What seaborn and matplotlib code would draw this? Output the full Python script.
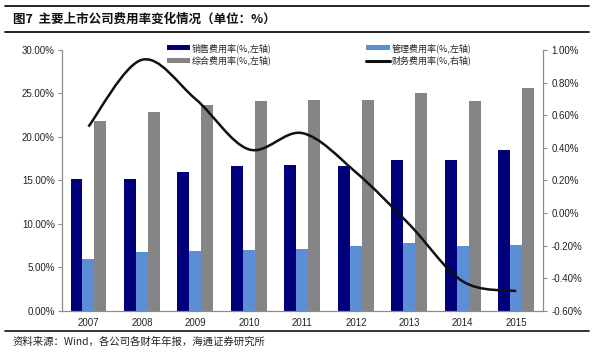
import numpy as np
import pandas as pd
import matplotlib
matplotlib.use("Agg")
import matplotlib.pyplot as plt
import seaborn as sns
from matplotlib.path import Path
from matplotlib.patches import PathPatch, Patch
from matplotlib.lines import Line2D
from matplotlib.ticker import FuncFormatter, MultipleLocator

# 数据（单位：%）
years = ["2007", "2008", "2009", "2010", "2011", "2012", "2013", "2014", "2015"]
sales_rate = [15.2, 15.2, 16.0, 16.7, 16.8, 16.6, 17.3, 17.3, 18.5]
admin_rate = [6.0, 6.8, 6.9, 7.0, 7.05, 7.4, 7.8, 7.4, 7.6]
total_rate = [21.8, 22.9, 23.7, 24.1, 24.3, 24.3, 25.0, 24.1, 25.6]
finance_rate = [0.53, 0.94, 0.70, 0.39, 0.49, 0.25, -0.07, -0.42, -0.48]

series_names = ["销售费用率(%,左轴)", "管理费用率(%,左轴)", "综合费用率(%,左轴)"]
line_name = "财务费用率(%,右轴)"
colors = ["#00007a", "#5b8ed6", "#858585"]

title = "图7  主要上市公司费用率变化情况（单位：%）"
source = "资料来源：Wind，各公司各财年年报，海通证券研究所"

sns.set_style("white")
plt.rcParams["font.family"] = ["Liberation Sans", "Noto Sans CJK SC"]
cjk = ["Noto Sans CJK SC", "DejaVu Sans"]

df = pd.DataFrame({
    "year": years * 3,
    "series": np.repeat(series_names, len(years)),
    "value": sales_rate + admin_rate + total_rate,
})

fig = plt.figure(figsize=(5.95, 3.59), dpi=100)
ax = fig.add_axes([0.1037, 0.1345, 0.8089, 0.7262])

sns.barplot(data=df, x="year", y="value", hue="series", hue_order=series_names,
            palette=colors, width=0.67, gap=0, saturation=1, legend=False,
            edgecolor="none", ax=ax)

ax.set_xlim(-0.5, len(years) - 0.5)
ax.set_ylim(0, 30)
ax.yaxis.set_major_locator(MultipleLocator(5))
ax.yaxis.set_major_formatter(FuncFormatter(lambda v, p: f"{v:.2f}%"))
ax.set_xlabel("")
ax.set_ylabel("")

# 右轴：财务费用率，平滑曲线
ax2 = ax.twinx()
ax2.set_ylim(-0.6, 1.0)
ax2.yaxis.set_major_locator(MultipleLocator(0.2))
ax2.yaxis.set_major_formatter(FuncFormatter(lambda v, p: f"{v:.2f}%"))

xs = np.arange(len(years), dtype=float)
ys = np.array(finance_rate, dtype=float)
verts = [(xs[0], ys[0])]
codes = [Path.MOVETO]
n = len(xs)
for i in range(n - 1):
    p0 = np.array([xs[max(i - 1, 0)], ys[max(i - 1, 0)]])
    p1 = np.array([xs[i], ys[i]])
    p2 = np.array([xs[i + 1], ys[i + 1]])
    p3 = np.array([xs[min(i + 2, n - 1)], ys[min(i + 2, n - 1)]])
    c1 = p1 + (p2 - p0) / 6
    c2 = p2 - (p3 - p1) / 6
    verts += [tuple(c1), tuple(c2), tuple(p2)]
    codes += [Path.CURVE4] * 3
ax2.add_patch(PathPatch(Path(verts, codes), facecolor="none",
                        edgecolor="#111111", lw=1.8, capstyle="butt"))

# 坐标轴样式
for a in (ax, ax2):
    for s in a.spines.values():
        s.set_visible(False)
    a.tick_params(labelsize=7, colors="#222222", length=3, width=0.8)
    a.grid(False)
ax.spines["left"].set_visible(True)
ax.spines["bottom"].set_visible(True)
ax2.spines["right"].set_visible(True)
for s in (ax.spines["left"], ax.spines["bottom"], ax2.spines["right"]):
    s.set_color("#8c8c8c")
    s.set_linewidth(0.9)
ax.tick_params(axis="y", direction="out", color="#8c8c8c", pad=2)
ax2.tick_params(axis="y", direction="out", color="#8c8c8c", pad=3)
ax.tick_params(axis="x", length=0, pad=5)
ax.set_xticks(np.arange(len(years) + 1) - 0.5, minor=True)
ax.tick_params(axis="x", which="minor", length=3, color="#8c8c8c", direction="out")

# 图例
handles = [
    Patch(facecolor=colors[0], edgecolor="none"),
    Patch(facecolor=colors[2], edgecolor="none"),
    Patch(facecolor=colors[1], edgecolor="none"),
    Line2D([0], [0], color="#111111", lw=2.2),
]
labels = [series_names[0], series_names[2], series_names[1], line_name]
fig.legend(handles, labels, ncol=2, loc="upper left",
           bbox_to_anchor=(167 / 595, 1 - 43 / 359), frameon=False,
           prop={"family": cjk, "size": 6.5}, handlelength=2.6,
           handleheight=0.55, handletextpad=0.15, columnspacing=10.5,
           labelspacing=0.35, borderpad=0, borderaxespad=0)

# 标题、来源与分隔线
fig.text(13 / 595, 1 - 19 / 359, title, fontsize=9, fontweight="bold",
         family=cjk, va="center", ha="left", color="#111111")
fig.text(13 / 595, 1 - 342 / 359, source, fontsize=7.5, family=cjk,
         va="center", ha="left", color="#222222")
for yy, lw in [(6, 1.3), (32, 1.3), (331, 1.2)]:
    fig.add_artist(Line2D([0.008, 0.99], [1 - yy / 359, 1 - yy / 359],
                          transform=fig.transFigure, color="#111111", lw=lw))

fig.savefig("out.png", dpi=100, facecolor="white")
